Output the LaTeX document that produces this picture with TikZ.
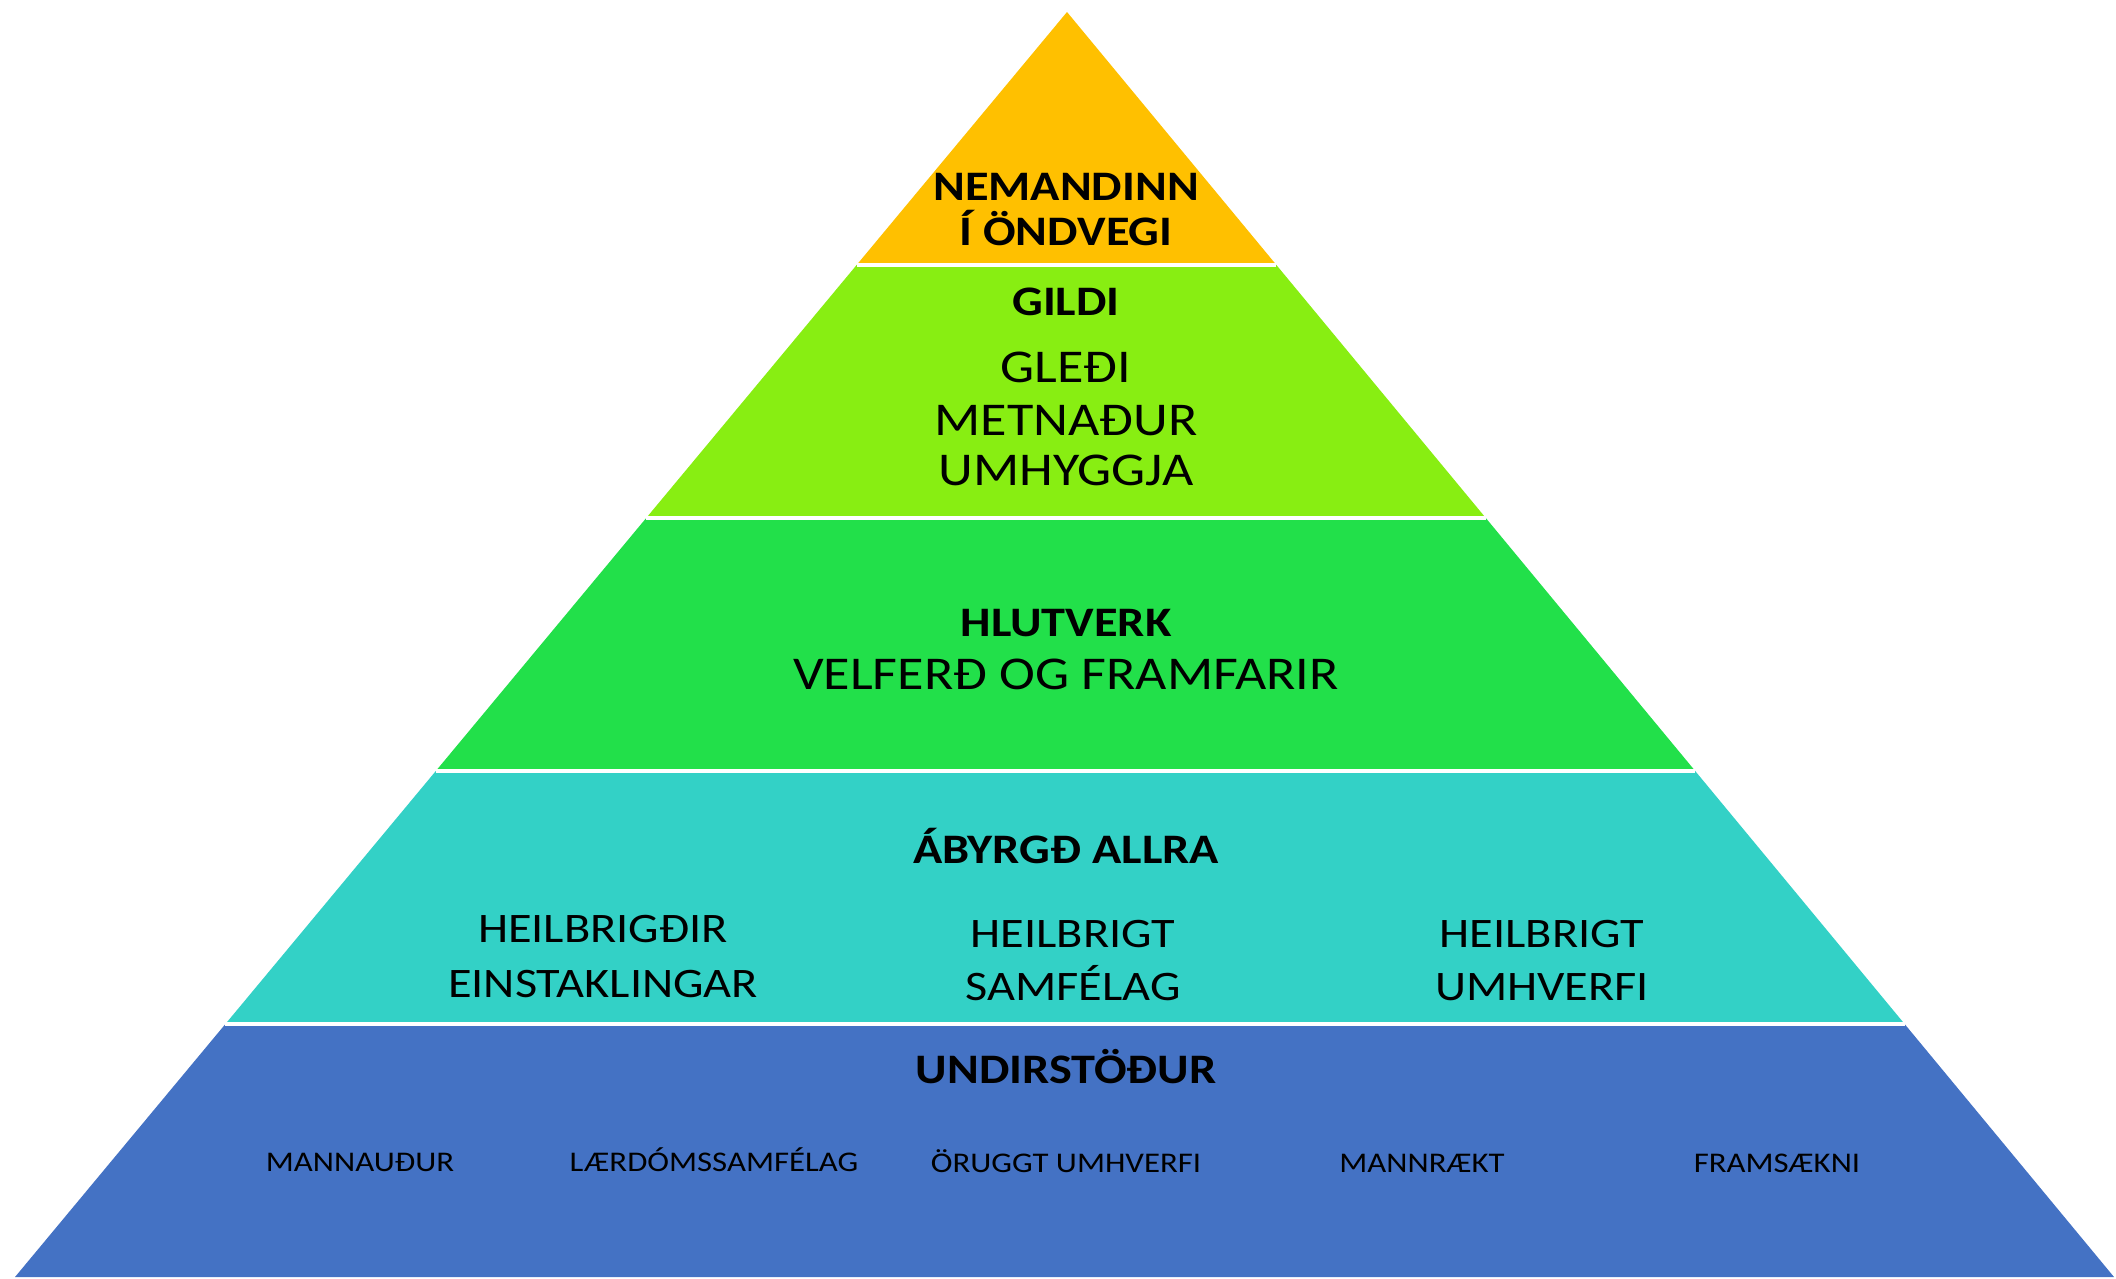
\documentclass[tikz,border=0pt]{standalone}
\usepackage{fontspec}
\setmainfont{Carlito}[FakeStretch=1.15]
\usetikzlibrary{calc}

\definecolor{gold}{HTML}{FFC000}
\definecolor{lime}{HTML}{88EE12}
\definecolor{leaf}{HTML}{22E04A}
\definecolor{teal}{HTML}{33D1C6}
\definecolor{navy}{HTML}{4472C4}

\tikzset{
	titletext/.style = {font = \fontsize{42}{42}\selectfont\bfseries, anchor = base},
	bigtext/.style = {font = \fontsize{47}{47}\selectfont, anchor = base},
	midtext/.style = {font = \fontsize{42}{42}\selectfont, anchor = base},
	smalltext/.style = {font = \fontsize{28.5}{28.5}\selectfont, anchor = base},
	gap/.style = {white, line width = 4pt}
}

\begin{document}
\begin{tikzpicture}[x = 1pt, y = -1pt]

\useasboundingbox (0, 0) rectangle (2116, 1278);

\coordinate (top) at (1067, 12);
\coordinate (bl) at (15, 1277);
\coordinate (br) at (2114, 1277);

\foreach \i in {1, ..., 4} {
	\coordinate (L\i) at ($(top)!\i/5!(bl)$);
	\coordinate (R\i) at ($(top)!\i/5!(br)$);
}

\fill[gold] (top) -- (R1) -- (L1) -- cycle;
\fill[lime] (L1) -- (R1) -- (R2) -- (L2) -- cycle;
\fill[leaf] (L2) -- (R2) -- (R3) -- (L3) -- cycle;
\fill[teal] (L3) -- (R3) -- (R4) -- (L4) -- cycle;
\fill[navy] (L4) -- (R4) -- (br) -- (bl) -- cycle;

\draw[gap] (L1) -- (R1);
\draw[gap] (L2) -- (R2);
\draw[gap] (L3) -- (R3);
\draw[gap] (L4) -- (R4);

\node[titletext] (nem) at (1066, 200) {NEMANDINN};
\node[titletext] (ond) at (1066, 245) {Í ÖNDVEGI};

\node[titletext] (gildi) at (1066, 315) {GILDI};
\node[bigtext] (gledi) at (1066, 382) {GLEÐI};
\node[bigtext] (metn) at (1066, 435) {METNAÐUR};
\node[bigtext] (umh) at (1066, 485) {UMHYGGJA};

\node[titletext] (hlut) at (1066, 636) {HLUTVERK};
\node[bigtext] (velf) at (1066, 689) {VELFERÐ OG FRAMFARIR};

\node[titletext] (abyrgd) at (1066, 863) {ÁBYRGÐ ALLRA};
\node[midtext] (heilA) at (603, 942) {HEILBRIGÐIR};
\node[midtext] (einst) at (603, 997) {EINSTAKLINGAR};
\node[midtext] (heilB) at (1073, 947) {HEILBRIGT};
\node[midtext] (samf) at (1073, 1000) {SAMFÉLAG};
\node[midtext] (heilC) at (1542, 947) {HEILBRIGT};
\node[midtext] (umhv) at (1542, 1000) {UMHVERFI};

\node[titletext] (undir) at (1066, 1083) {UNDIRSTÖÐUR};
\node[smalltext] (mann) at (360, 1171) {MANNAUÐUR};
\node[smalltext] (laer) at (714, 1171) {LÆRDÓMSSAMFÉLAG};
\node[smalltext] (orugg) at (1066, 1172) {ÖRUGGT UMHVERFI};
\node[smalltext] (mannr) at (1422, 1172) {MANNRÆKT};
\node[smalltext] (frams) at (1777, 1172) {FRAMSÆKNI};

\end{tikzpicture}
\end{document}
